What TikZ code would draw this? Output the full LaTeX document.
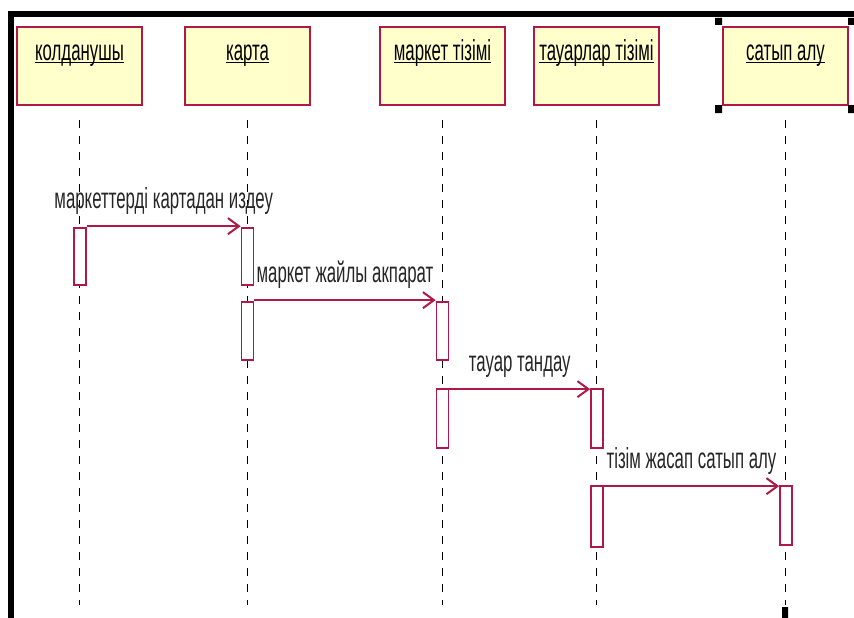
\documentclass[tikz,border=0pt]{standalone}
\usepackage{fontspec}
\setmainfont{Liberation Sans}[FakeStretch=0.58]
\usetikzlibrary{arrows.meta}
\definecolor{crim}{RGB}{176,24,72}
\definecolor{objfill}{RGB}{255,255,204}
\newcommand{\undl}[1]{\setbox0\hbox{#1}\rlap{\rule[-2.5pt]{\wd0}{1.6pt}}\box0}

\tikzset{
  obj/.style={draw=crim, line width=1.8pt, fill=objfill, inner sep=0pt,
    minimum width=125pt, text height=34pt, text depth=44pt, anchor=north},
  act/.style={draw=crim, line width=1.7pt, fill=white, minimum width=12pt, inner sep=0pt},
  life/.style={black, line width=1.6pt, dash pattern=on 8pt off 8pt},
  msg/.style={crim, line width=2pt, -{Straight Barb[length=11pt,width=16pt]}},
  lbl/.style={midway, anchor=base, yshift=18pt, text=black!85},
  handle/.style={fill=black}
}

\begin{document}
\begin{tikzpicture}[x=1pt,y=-1pt,font=\fontsize{29}{32}\selectfont]
  \useasboundingbox (0,0) rectangle (854,618);
  \draw[line width=6pt] (11,618) -- (11,14) -- (854,14);
  % objects
  \node[obj] (user)  at (79.5,26)  {\undl{колданушы}};
  \node[obj] (map)   at (247.5,26) {\undl{карта}};
  \node[obj] (mlist) at (442.5,26) {\undl{маркет тізімі}};
  \node[obj] (glist) at (596.5,26) {\undl{тауарлар тізімі}};
  \node[obj] (buy)   at (785.5,26) {\undl{сатып алу}};
  % lifelines
  \coordinate (bot) at (0,605);
  \foreach \o in {user,map,mlist,glist,buy}
    \draw[life] ([yshift=-14pt]\o.south) -- (\o.south |- bot);
  % activations
  \node[act, minimum height=57pt] (u1) at (80,256.5)   {};
  \node[act, minimum height=57pt] (k1) at (247.5,256.5) {};
  \node[act, minimum height=58pt] (k2) at (247.5,331)  {};
  \node[act, minimum height=58pt] (m1) at (442.5,331)  {};
  \node[act, minimum height=59pt] (m2) at (442.5,418.5) {};
  \node[act, minimum height=59pt] (g1) at (597,418.5)  {};
  \node[act, minimum height=61pt] (g2) at (597,516.5)  {};
  \node[act, minimum height=59pt] (b1) at (786,515.5)  {};
  % messages
  \draw[msg] ([yshift=1pt]u1.north east) -- ([yshift=1pt]k1.north west)
    node[lbl] {маркеттерді картадан издеу};
  \draw[msg] ([yshift=1pt]k2.north east) -- ([yshift=1pt]m1.north west)
    node[lbl] {маркет жайлы акпарат};
  \draw[msg] ([yshift=-1pt]m2.north east) -- ([yshift=-1pt]g1.north west)
    node[lbl] {тауар тандау};
  \draw[msg] ([yshift=-1pt]g2.north east) -- ([yshift=-1pt]b1.north west)
    node[lbl] {тізім жасап сатып алу};
  % handles
  \fill[handle] (715,18) rectangle (722,25) (848,18) rectangle (854,25)
    (715,105) rectangle (722,113) (848,105) rectangle (854,113)
    (782,607) rectangle (788,618);
\end{tikzpicture}
\end{document}
